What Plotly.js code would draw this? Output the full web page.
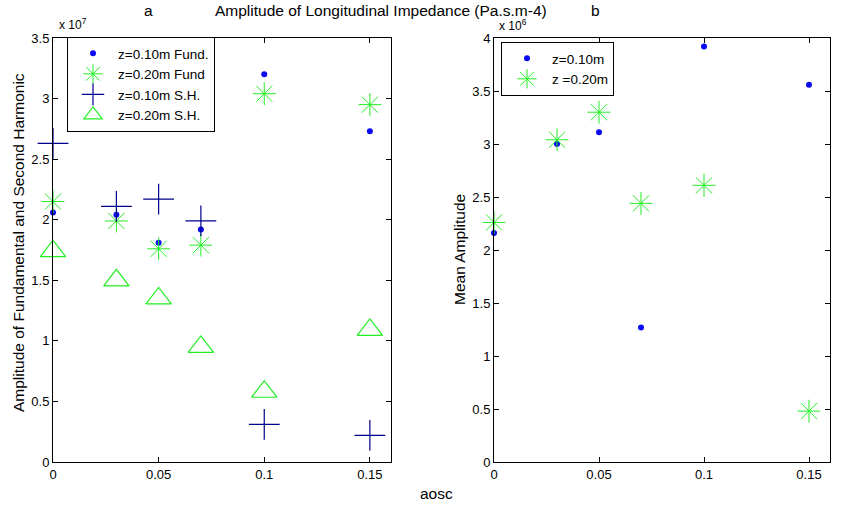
<!DOCTYPE html>
<html>
<head>
<meta charset="utf-8">
<script src="https://cdn.plot.ly/plotly-3.0.1.min.js"></script>
<style>html,body{margin:0;padding:0;background:#fff;}#chart{width:842px;height:509px;}</style>
</head>
<body>
<div id="chart"></div>
<script>
// ---- data ----
const aosc = [0, 0.03, 0.05, 0.07, 0.10, 0.15];

// panel a (Pa.s.m-4)
const fund010 = [2.06e7, 2.04e7, 1.81e7, 1.92e7, 3.20e7, 2.73e7];
const fund020 = [2.15e7, 1.99e7, 1.76e7, 1.79e7, 3.04e7, 2.95e7];
const sh010   = [2.63e7, 2.11e7, 2.17e7, 1.99e7, 0.31e7, 0.22e7];
const sh020   = [1.74e7, 1.50e7, 1.35e7, 0.95e7, 0.58e7, 1.09e7];

// panel b
const mean010 = [2.16e6, 3.00e6, 3.11e6, 1.27e6, 3.92e6, 3.56e6];
const mean020 = [2.26e6, 3.04e6, 3.30e6, 2.44e6, 2.61e6, 0.48e6];

// ticks
const xTickVals = [0, 0.05, 0.1, 0.15];
const xTickText = ['0', '0.05', '0.1', '0.15'];
const yaTickVals = [0, 0.5e7, 1e7, 1.5e7, 2e7, 2.5e7, 3e7, 3.5e7];
const yaTickText = ['0', '0.5', '1', '1.5', '2', '2.5', '3', '3.5'];
const ybTickVals = [0, 0.5e6, 1e6, 1.5e6, 2e6, 2.5e6, 3e6, 3.5e6, 4e6];
const ybTickText = ['0', '0.5', '1', '1.5', '2', '2.5', '3', '3.5', '4'];

const BLUE = '#0a0af0';
const NAVY = '#00008c';
const GREEN = '#22ee22';
const FONT = 'Liberation Sans, Arial, sans-serif';

const traces = [
  {x: aosc, y: fund010, name: 'z=0.10m Fund.', mode: 'markers', type: 'scatter', cliponaxis: false,
   marker: {symbol: 'circle', size: 6, color: BLUE}, xaxis: 'x', yaxis: 'y', legend: 'legend'},
  {x: aosc, y: fund020, name: 'z=0.20m Fund', mode: 'markers', type: 'scatter', cliponaxis: false,
   marker: {symbol: 'asterisk-open', size: 19, color: GREEN, line: {color: GREEN, width: 1}}, xaxis: 'x', yaxis: 'y', legend: 'legend'},
  {x: aosc, y: sh010, name: 'z=0.10m S.H.', mode: 'markers', type: 'scatter', cliponaxis: false,
   marker: {symbol: 'cross-thin-open', size: 22, color: NAVY, line: {color: NAVY, width: 1.2}}, xaxis: 'x', yaxis: 'y', legend: 'legend'},
  {x: aosc, y: sh020, name: 'z=0.20m S.H.', mode: 'markers', type: 'scatter', cliponaxis: false,
   marker: {symbol: 'triangle-up-open', size: 22, color: GREEN, line: {color: GREEN, width: 1.2}}, xaxis: 'x', yaxis: 'y', legend: 'legend'},
  {x: aosc, y: mean010, name: 'z=0.10m', mode: 'markers', type: 'scatter', cliponaxis: false,
   marker: {symbol: 'circle', size: 6, color: BLUE}, xaxis: 'x2', yaxis: 'y2', legend: 'legend2'},
  {x: aosc, y: mean020, name: 'z =0.20m', mode: 'markers', type: 'scatter', cliponaxis: false,
   marker: {symbol: 'asterisk-open', size: 19, color: GREEN, line: {color: GREEN, width: 1}}, xaxis: 'x2', yaxis: 'y2', legend: 'legend2'}
];

const W = 842, H = 509;
const px = v => v / W;
const py = v => (H - v) / H;

const axisCommon = {
  showline: true, linecolor: '#000', linewidth: 1, mirror: 'ticks',
  ticks: 'inside', ticklen: 5, tickcolor: '#000', showgrid: false, zeroline: false,
  tickfont: {family: FONT, size: 13, color: '#000'}, fixedrange: true
};

const legendCommon = {
  xanchor: 'left', yanchor: 'top',
  bgcolor: '#fff', bordercolor: '#000', borderwidth: 1,
  font: {family: FONT, size: 13.5, color: '#000'}, tracegroupgap: 0, itemwidth: 40
};

function ann(text, x, y, extra) {
  return Object.assign({text: text, x: px(x), y: py(y), xref: 'paper', yref: 'paper',
    xanchor: 'center', yanchor: 'middle', showarrow: false,
    font: {family: FONT, size: 15.5, color: '#000'}}, extra || {});
}

const layout = {
  width: W, height: H,
  margin: {l: 0, r: 0, t: 0, b: 0},
  paper_bgcolor: '#fff', plot_bgcolor: '#fff',
  font: {family: FONT, size: 14, color: '#000'},
  showlegend: true,
  xaxis: Object.assign({}, axisCommon, {domain: [px(53), px(391)], range: [0, 0.16],
    tickvals: xTickVals, ticktext: xTickText, anchor: 'y'}),
  yaxis: Object.assign({}, axisCommon, {domain: [py(462), py(38)], range: [0, 3.5e7],
    tickvals: yaTickVals, ticktext: yaTickText, anchor: 'x'}),
  xaxis2: Object.assign({}, axisCommon, {domain: [px(494), px(830)], range: [0, 0.16],
    tickvals: xTickVals, ticktext: xTickText, anchor: 'y2'}),
  yaxis2: Object.assign({}, axisCommon, {domain: [py(462), py(38)], range: [0, 4e6],
    tickvals: ybTickVals, ticktext: ybTickText, anchor: 'x2'}),
  legend: Object.assign({x: px(67), y: py(37)}, legendCommon),
  legend2: Object.assign({x: px(501), y: py(42)}, legendCommon),
  annotations: [
    ann('a', 148, 11),
    ann('Amplitude of Longitudinal Impedance (Pa.s.m-4)', 381, 11),
    ann('b', 595, 11),
    ann('aosc', 437, 493),
    ann('Amplitude of Fundamental and Second Harmonic', 18, 243, {textangle: -90}),
    ann('Mean Amplitude', 459, 250, {textangle: -90}),
    ann('x 10<sup>7</sup>', 57, 24, {xanchor: 'left', font: {family: FONT, size: 12, color: '#000'}}),
    ann('x 10<sup>6</sup>', 497, 25, {xanchor: 'left', font: {family: FONT, size: 12, color: '#000'}})
  ]
};

Plotly.newPlot('chart', traces, layout, {displayModeBar: false, staticPlot: true});
</script>
</body>
</html>
